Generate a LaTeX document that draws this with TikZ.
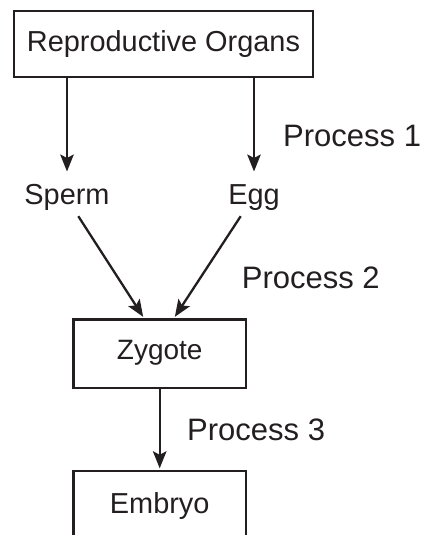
\documentclass[tikz,border=0pt]{standalone}
\usepackage{fontspec}
\setmainfont{Liberation Sans}
\usetikzlibrary{arrows.meta}
\definecolor{ink}{RGB}{35,31,32}
\begin{document}
\begin{tikzpicture}[x=1pt,y=-1pt,
  box/.style={draw=ink, line width=2.4pt, inner sep=0pt, text=ink},
  lbl/.style={inner sep=0pt, text=ink},
  arr/.style={draw=ink, line width=2.3pt, -{Stealth[length=17pt,width=13.5pt,inset=3.5pt]}},
  big/.style={font=\fontsize{28.9}{34}\selectfont},
  zygfont/.style={font=\fontsize{28}{33}\selectfont},
  proc/.style={font=\fontsize{31}{36}\selectfont, anchor=base west, lbl}]
\useasboundingbox (0,0) rectangle (420,535);
\clip (0,0) rectangle (420,535);
\node[box, big, minimum width=299pt, minimum height=66pt, text height=21pt, text depth=5pt] (org) at (163.5,44) {Reproductive Organs};
\node[lbl, big, anchor=base, text height=21pt, text depth=6pt] (sperm) at (67,204) {Sperm};
\node[lbl, big, anchor=base, text height=21pt, text depth=6pt] (egg) at (254,204) {Egg};
\node[box, zygfont, minimum width=172.7pt, minimum height=68.4pt, text height=20pt, text depth=8pt] (zyg) at (159.7,353.5) {Zygote};
\node[box, big, minimum width=172.7pt, minimum height=68.4pt, text height=21pt, text depth=5pt] (emb) at (159.7,505) {Embryo};
\node[proc] (p1) at (283,146.5) {Process 1};
\node[proc] (p2) at (241.7,288) {Process 2};
\node[proc] (p3) at (187,440) {Process 3};
\draw[arr, shorten >=11.3pt] (org.south -| sperm) -- (sperm.north);
\draw[arr, shorten >=11.3pt] (org.south -| egg) -- (egg.north);
\draw[arr, shorten >=1.5pt] ([xshift=11.3pt,yshift=-6pt]sperm.south) -- ([xshift=-15.7pt]zyg.north);
\draw[arr, shorten >=1.5pt] ([xshift=-13.3pt,yshift=-6pt]egg.south) -- ([xshift=14.3pt]zyg.north);
\draw[arr, shorten >=1.3pt] (zyg) -- (emb);
\end{tikzpicture}
\end{document}
